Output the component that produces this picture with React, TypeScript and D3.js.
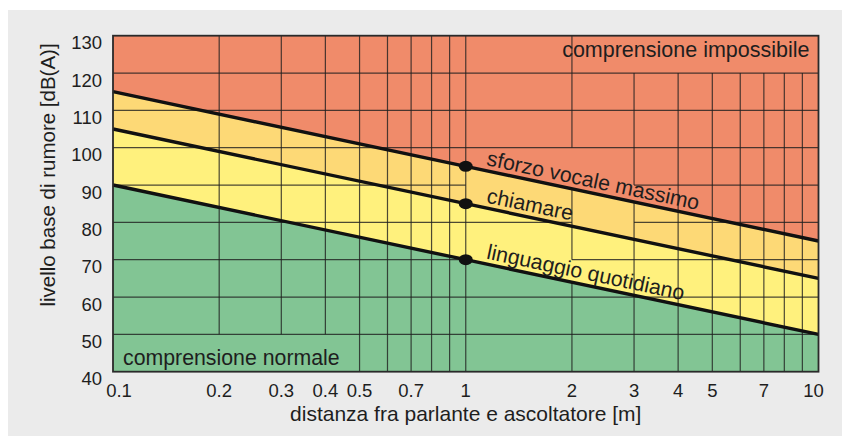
import React from "react";
import * as d3 from "d3";

// ---- data ----
const distances = [0.1, 1, 10];
const maxEffort = [115, 95, 75]; // sforzo vocale massimo
const calling = [105, 85, 65]; // chiamare
const everyday = [90, 70, 50]; // linguaggio quotidiano

const xTicks = [0.1, 0.2, 0.3, 0.4, 0.5, 0.7, 1, 2, 3, 4, 5, 7, 10];
const yTicks = [40, 50, 60, 70, 80, 90, 100, 110, 120, 130];
const vGridValues = [0.2, 0.3, 0.4, 0.5, 0.6, 0.7, 0.8, 0.9, 1, 2, 3, 4, 5, 6, 7, 8, 9];
const hGridValues = [50, 60, 70, 80, 90, 100, 110, 120];

// gaps in grid lines (data units)
const vGaps = [
  { xs: [0.2, 0.3, 0.4], from: 40, to: 50 },
  { xs: [3, 4, 5, 6, 7, 8, 9], from: 120, to: 130 },
  { xs: [2], from: 89, to: 100 },
  { xs: [2], from: 64, to: 70 },
  { xs: [3], from: 85.5, to: 90 },
];
const hGaps = [
  { y: 90, from: 1, to: 3 },
  { y: 80, from: 2, to: 3 },
  { y: 70, from: 1, to: 2 },
];

const curveLabels = ["sforzo vocale massimo", "chiamare", "linguaggio quotidiano"];
const markerDistance = 1;
const labelDistance = 1.14;

const xTitle = "distanza fra parlante e ascoltatore [m]";
const yTitle = "livello base di rumore [dB(A)]";
const zoneTop = "comprensione impossibile";
const zoneBottom = "comprensione normale";

const W = 842;
const H = 436;
const FONT = "'Liberation Sans', Arial, Helvetica, sans-serif";

const x = d3.scaleLog().domain([0.1, 10]).range([113, 818.5]);
const y = d3.scaleLinear().domain([40, 130]).range([371.7, 35.7]);

function subtract(range: [number, number], gaps: { from: number; to: number }[]) {
  let segs: [number, number][] = [range];
  for (const g of gaps) {
    const next: [number, number][] = [];
    for (const [a, b] of segs) {
      if (g.to <= a || g.from >= b) {
        next.push([a, b]);
      } else {
        if (g.from > a) next.push([a, g.from]);
        if (g.to < b) next.push([g.to, b]);
      }
    }
    segs = next;
  }
  return segs;
}

function valueAt(series: number[], d: number) {
  const interp = d3.scaleLog().domain(distances).range(series);
  return interp(d);
}

export default function App() {
  const series = [maxEffort, calling, everyday];
  const pts = (s: number[]) => distances.map((d, i) => ({ d, v: s[i] }));
  const line = d3
    .line<{ d: number; v: number }>()
    .x((p) => x(p.d))
    .y((p) => y(p.v));
  const area = d3
    .area<{ d: number; v: number }>()
    .x((p) => x(p.d))
    .y0(y(40))
    .y1((p) => y(p.v));

  const angle =
    (Math.atan2(y(maxEffort[2]) - y(maxEffort[1]), x(10) - x(1)) * 180) / Math.PI;

  const vLines: any[] = [];
  vGridValues.forEach((xv, i) => {
    const gaps = vGaps.filter((g) => g.xs.includes(xv));
    subtract([40, 130], gaps).forEach(([a, b], j) => {
      vLines.push(
        <line key={`v${i}-${j}`} x1={x(xv)} x2={x(xv)} y1={y(a)} y2={y(b)} />
      );
    });
  });
  const hLines: any[] = [];
  hGridValues.forEach((yv, i) => {
    const gaps = hGaps.filter((g) => g.y === yv);
    subtract([0.1, 10], gaps).forEach(([a, b], j) => {
      hLines.push(
        <line key={`h${i}-${j}`} x1={x(a)} x2={x(b)} y1={y(yv)} y2={y(yv)} />
      );
    });
  });

  return (
    <svg
      width={W}
      height={H}
      style={{ position: "absolute", left: 0, top: 0, display: "block" }}
      fontFamily={FONT}
    >
      <rect x={0} y={0} width={W} height={H} fill="#ffffff" />
      <rect x={8} y={10} width={W - 8} height={H - 10} fill="#ebebeb" />

      {/* zones */}
      <rect
        x={x(0.1)}
        y={y(130)}
        width={x(10) - x(0.1)}
        height={y(40) - y(130)}
        fill="#f08b6a"
      />
      <path d={area(pts(maxEffort)) || ""} fill="#fdd976" />
      <path d={area(pts(calling)) || ""} fill="#fff17d" />
      <path d={area(pts(everyday)) || ""} fill="#82c594" />

      {/* grid */}
      <g stroke="#1f1f1f" strokeOpacity={0.8} strokeWidth={1.2}>
        {vLines}
        {hLines}
      </g>

      {/* curves */}
      {series.map((s, i) => (
        <path
          key={`c${i}`}
          d={line(pts(s)) || ""}
          fill="none"
          stroke="#111"
          strokeWidth={3.4}
        />
      ))}
      {series.map((s, i) => (
        <ellipse
          key={`m${i}`}
          cx={x(markerDistance)}
          cy={y(valueAt(s, markerDistance))}
          rx={7}
          ry={5.5}
          fill="#111"
        />
      ))}
      {series.map((s, i) => {
        const lx = x(labelDistance);
        const ly = y(valueAt(s, labelDistance)) - 5.5;
        return (
          <text
            key={`l${i}`}
            x={lx}
            y={ly}
            transform={`rotate(${angle} ${lx} ${ly})`}
            fontSize={21.3}
            fill="#1e1e1e"
          >
            {curveLabels[i]}
          </text>
        );
      })}

      {/* zone labels */}
      <text
        x={x(10) - 9}
        y={y(130) + 21.5}
        textAnchor="end"
        fontSize={21.5}
        fill="#1e1e1e"
      >
        {zoneTop}
      </text>
      <text x={x(0.1) + 10} y={y(40) - 7} fontSize={21.3} fill="#1e1e1e">
        {zoneBottom}
      </text>

      {/* frame */}
      <rect
        x={x(0.1)}
        y={y(130)}
        width={x(10) - x(0.1)}
        height={y(40) - y(130)}
        fill="none"
        stroke="#2a2a2a"
        strokeWidth={1.8}
      />

      {/* axes ticks */}
      {xTicks.map((t, i) => {
        const nudge = i === 0 ? 6 : i === xTicks.length - 1 ? -5 : 0;
        return (
          <text
            key={`xt${i}`}
            x={x(t) + nudge}
            y={y(40) + 25.3}
            textAnchor="middle"
            fontSize={18.5}
            fill="#1e1e1e"
          >
            {String(t)}
          </text>
        );
      })}
      {yTicks.map((t, i) => (
        <text
          key={`yt${i}`}
          x={x(0.1) - 11}
          y={y(t) + 13.6}
          textAnchor="end"
          fontSize={18.5}
          fill="#1e1e1e"
        >
          {t}
        </text>
      ))}

      {/* axis titles */}
      <text
        x={x(1)}
        y={421}
        textAnchor="middle"
        fontSize={21}
        fill="#1e1e1e"
      >
        {xTitle}
      </text>
      <text
        x={55}
        y={175}
        transform="rotate(-90 55 175)"
        textAnchor="middle"
        fontSize={20.5}
        fill="#1e1e1e"
      >
        {yTitle}
      </text>
    </svg>
  );
}
